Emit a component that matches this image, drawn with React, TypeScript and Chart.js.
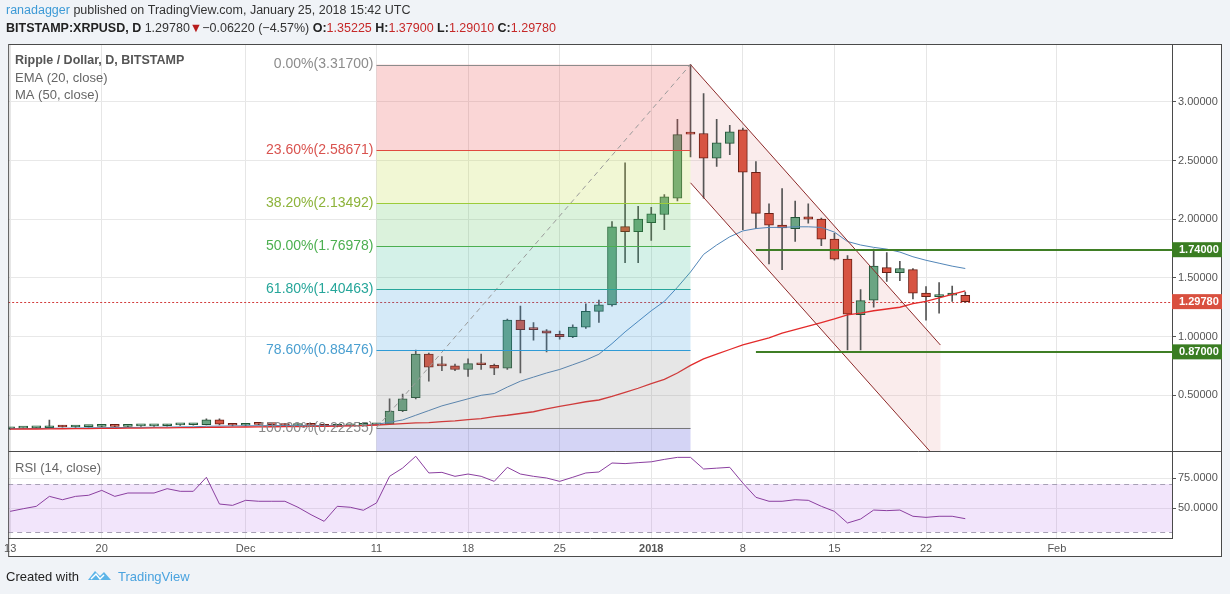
import { useEffect, useRef } from 'react';
import { Chart, registerables } from 'chart.js';

Chart.register(...registerables);

const FONT = "'Liberation Sans', Arial, sans-serif";

// daily candles, index 0 = Nov 13 2017 ... index 73 = Jan 25 2018
const opens = [
  0.215, 0.22, 0.222, 0.224, 0.238, 0.23, 0.233, 0.236, 0.242, 0.235,
  0.24, 0.24, 0.241, 0.248, 0.249, 0.25, 0.292, 0.255, 0.245, 0.255,
  0.252, 0.25, 0.243, 0.251, 0.245, 0.235, 0.24, 0.244, 0.248, 0.255,
  0.37, 0.48, 0.85, 0.755, 0.75, 0.72, 0.77, 0.755, 0.73, 1.14,
  1.065, 1.05, 1.02, 1.0, 1.08, 1.215, 1.27, 1.936, 1.894, 1.97,
  2.04, 2.18, 2.73, 2.73, 2.52, 2.645, 2.76, 2.4, 2.05, 1.95,
  1.92, 2.02, 2.0, 1.83, 1.66, 1.187, 1.31, 1.587, 1.545, 1.57,
  1.37, 1.34, 1.352, 1.35225,
];
const highs = [
  0.222, 0.226, 0.228, 0.29, 0.245, 0.236, 0.24, 0.245, 0.248, 0.242,
  0.243, 0.244, 0.25, 0.252, 0.254, 0.3, 0.3, 0.262, 0.26, 0.262,
  0.258, 0.256, 0.255, 0.255, 0.25, 0.245, 0.246, 0.25, 0.262, 0.47,
  0.51, 0.885, 0.86, 0.83, 0.766, 0.81, 0.85, 0.766, 1.15, 1.26,
  1.12, 1.06, 1.048, 1.1, 1.28, 1.31, 1.98, 2.48, 2.11, 2.1,
  2.21, 2.85, 3.317, 3.07, 2.85, 2.8, 2.775, 2.49, 2.13, 2.26,
  2.155, 2.13, 2.01, 1.88, 1.69, 1.4, 1.745, 1.715, 1.64, 1.58,
  1.425, 1.46, 1.43, 1.379,
];
const lows = [
  0.208, 0.215, 0.217, 0.22, 0.228, 0.226, 0.229, 0.231, 0.233, 0.232,
  0.236, 0.236, 0.238, 0.244, 0.245, 0.248, 0.248, 0.24, 0.24, 0.248,
  0.245, 0.24, 0.238, 0.242, 0.232, 0.23, 0.236, 0.24, 0.245, 0.25,
  0.36, 0.47, 0.62, 0.71, 0.71, 0.66, 0.72, 0.675, 0.72, 0.69,
  0.97, 0.87, 0.977, 0.99, 1.07, 1.12, 1.26, 1.63, 1.63, 1.82,
  1.91, 2.155, 2.53, 2.18, 2.45, 2.55, 1.91, 1.92, 1.62, 1.57,
  1.81, 1.965, 1.775, 1.65, 0.886, 0.886, 1.25, 1.47, 1.476, 1.32,
  1.14, 1.2, 1.3, 1.2901,
];
const closes = [
  0.22, 0.222, 0.224, 0.238, 0.23, 0.233, 0.236, 0.242, 0.235, 0.24,
  0.24, 0.241, 0.248, 0.249, 0.25, 0.292, 0.255, 0.245, 0.255, 0.252,
  0.25, 0.243, 0.251, 0.245, 0.235, 0.24, 0.244, 0.248, 0.255, 0.366,
  0.47, 0.85, 0.74, 0.75, 0.72, 0.77, 0.76, 0.73, 1.14, 1.06,
  1.06, 1.03, 1.0, 1.08, 1.215, 1.27, 1.935, 1.893, 2.0, 2.045,
  2.19, 2.72, 2.725, 2.52, 2.65, 2.745, 2.4, 2.05, 1.95, 1.925,
  2.015, 2.0, 1.83, 1.66, 1.19, 1.306, 1.6, 1.545, 1.58, 1.37,
  1.34, 1.35, 1.37, 1.2978,
];
const ema20 = [
  0.215, 0.216, 0.217, 0.219, 0.22, 0.221, 0.223, 0.224, 0.225, 0.226,
  0.227, 0.228, 0.229, 0.231, 0.232, 0.236, 0.238, 0.239, 0.24, 0.241,
  0.242, 0.242, 0.243, 0.243, 0.242, 0.242, 0.242, 0.243, 0.253, 0.27,
  0.29, 0.33, 0.37, 0.41, 0.44, 0.47, 0.5, 0.515, 0.57, 0.62,
  0.655, 0.69, 0.72, 0.76, 0.8, 0.85, 0.94, 1.04, 1.13, 1.22,
  1.3, 1.42, 1.55, 1.7, 1.78, 1.85, 1.9, 1.92, 1.93, 1.93,
  1.935, 1.935, 1.93, 1.89, 1.81, 1.78, 1.76, 1.745, 1.72, 1.68,
  1.65, 1.625, 1.6, 1.58,
];
const ma50 = [
  0.212, 0.213, 0.213, 0.214, 0.215, 0.216, 0.217, 0.218, 0.219, 0.22,
  0.221, 0.222, 0.223, 0.224, 0.225, 0.227, 0.228, 0.229, 0.23, 0.231,
  0.232, 0.233, 0.234, 0.235, 0.236, 0.237, 0.239, 0.242, 0.247, 0.252,
  0.258, 0.265, 0.268, 0.275, 0.282, 0.292, 0.302, 0.318, 0.33, 0.345,
  0.36, 0.385, 0.405, 0.425, 0.445, 0.46, 0.49, 0.525, 0.56, 0.6,
  0.635, 0.69, 0.755, 0.81, 0.85, 0.89, 0.93, 0.96, 0.99, 1.03,
  1.06, 1.09, 1.12, 1.15, 1.185, 1.2, 1.22, 1.235, 1.25, 1.28,
  1.3, 1.33, 1.36, 1.39,
];
const rsi14 = [
  47.2, 49.4, 51.4, 59.7, 56.9, 59.7, 60.6, 64.7, 59.7, 62.5,
  62.5, 62.5, 66.1, 63.9, 63.9, 75.6, 53.3, 52.2, 56.4, 55.6,
  55.6, 55.6, 50.6, 44.4, 38.9, 51.4, 50.6, 48.1, 54.2, 76.4,
  83.3, 93.1, 79.2, 79.7, 76.4, 78.3, 76.4, 72.2, 83.9, 78.3,
  76.4, 75.0, 72.2, 75.6, 79.2, 80.0, 87.5, 87.0, 87.8, 88.5,
  90.5, 92.2, 92.2, 82.5, 83.2, 83.9, 70.8, 58.9, 55.6, 55.6,
  56.9, 56.4, 51.4, 47.2, 37.5, 40.8, 48.3, 47.8, 48.3, 43.1,
  42.2, 43.1, 43.1, 41.1,
];

const xTickDays = [0, 7, 18, 28, 35, 42, 49, 56, 63, 70, 80];
const xTickLabels = ['13', '20', 'Dec', '11', '18', '25', '2018', '8', '15', '22', 'Feb'];
const priceTicks = [0.5, 1, 1.5, 2, 2.5, 3];
const rsiTicks = [50, 75];

const fibNames = ['0.00%', '23.60%', '38.20%', '50.00%', '61.80%', '78.60%', '100.00%'];
const fibPrices = [3.317, 2.58671, 2.13492, 1.76978, 1.40463, 0.88476, 0.22255];
const fibStartDay = 28;
const fibEndDay = 52;
const channelUpper = [[52, 3.317], [71.1, 0.928]];
const channelLower = [[52, 2.31], [71.1, -0.077]];
const supportLevels = [1.74, 0.87];
const supportStartDay = 57;
const lastPrice = 1.2978;

const fibLineColors = ['#8c8c8c', '#e04a3f', '#9ccc3a', '#4caf50', '#26a69a', '#2f9bd6', '#777777'];
const fibTextColors = ['#8c8c8c', '#d9534f', '#8db33a', '#4caf50', '#26a69a', '#4a9fd0', '#888888'];
const fibZoneColors = [
  'rgba(232,70,70,0.22)',
  'rgba(190,220,60,0.22)',
  'rgba(76,190,80,0.2)',
  'rgba(38,185,140,0.2)',
  'rgba(45,150,220,0.2)',
  'rgba(130,130,130,0.2)',
  'rgba(90,90,215,0.26)',
];

type Run = { text: string; color: string; bold?: boolean };

function drawRuns(ctx: CanvasRenderingContext2D, x: number, y: number, runs: Run[], size = 13) {
  for (const r of runs) {
    ctx.font = `${r.bold ? 'bold ' : ''}${size}px ${FONT}`;
    ctx.fillStyle = r.color;
    ctx.fillText(r.text, x, y);
    x += ctx.measureText(r.text).width;
  }
}

const overlay = {
  id: 'overlay',
  beforeDraw(chart: any) {
    const { ctx, chartArea, scales } = chart;
    ctx.save();
    ctx.fillStyle = '#f0f3f7';
    ctx.fillRect(0, 0, chart.width, chart.height);
    ctx.fillStyle = '#ffffff';
    ctx.fillRect(chartArea.left, chartArea.top, scales.y.right - chartArea.left, scales.x.bottom - chartArea.top);

    ctx.textBaseline = 'middle';
    drawRuns(ctx, 6, 11, [
      { text: 'ranadagger', color: '#3d9ad6' },
      { text: ' published on TradingView.com, January 25, 2018 15:42 UTC', color: '#333' },
    ], 12.5);
    const red = '#c62828';
    drawRuns(ctx, 6, 29, [
      { text: 'BITSTAMP:XRPUSD, D', color: '#222', bold: true },
      { text: ' 1.29780', color: '#333' },
      { text: '▼', color: '#b71c1c' },
      { text: '\u22120.06220 (\u22124.57%) ', color: '#333' },
      { text: 'O:', color: '#222', bold: true },
      { text: '1.35225', color: red },
      { text: ' H:', color: '#222', bold: true },
      { text: '1.37900', color: red },
      { text: ' L:', color: '#222', bold: true },
      { text: '1.29010', color: red },
      { text: ' C:', color: '#222', bold: true },
      { text: '1.29780', color: red },
    ], 12.5);

    // footer
    drawRuns(ctx, 6, 577, [{ text: 'Created with', color: '#222' }], 13);
    ctx.fillStyle = '#5bb4e8';
    ctx.beginPath();
    ctx.moveTo(88, 580);
    ctx.lineTo(95, 571);
    ctx.lineTo(100, 576);
    ctx.lineTo(104, 572);
    ctx.lineTo(111, 580);
    ctx.closePath();
    ctx.fill();
    ctx.strokeStyle = '#ffffff';
    ctx.lineWidth = 1.5;
    ctx.beginPath();
    ctx.moveTo(91, 579);
    ctx.lineTo(96, 574);
    ctx.lineTo(100, 579);
    ctx.lineTo(104, 575);
    ctx.stroke();
    drawRuns(ctx, 118, 577, [{ text: 'TradingView', color: '#4aa3df' }], 13);
    ctx.restore();
  },
  beforeDatasetsDraw(chart: any) {
    const { ctx, chartArea, scales } = chart;
    const x = scales.x, y = scales.y, r = scales.yRsi;
    ctx.save();
    // RSI band
    const y70 = r.getPixelForValue(70), y30 = r.getPixelForValue(30);
    ctx.fillStyle = 'rgba(185,110,235,0.18)';
    ctx.fillRect(chartArea.left, y70, chartArea.right - chartArea.left, y30 - y70);
    ctx.strokeStyle = '#a7a0b5';
    ctx.lineWidth = 1;
    ctx.setLineDash([5, 4]);
    for (const v of [y70, y30]) {
      ctx.beginPath();
      ctx.moveTo(chartArea.left, Math.round(v) + 0.5);
      ctx.lineTo(chartArea.right, Math.round(v) + 0.5);
      ctx.stroke();
    }
    ctx.setLineDash([]);

    // main panel clip
    ctx.beginPath();
    ctx.rect(chartArea.left, y.top, chartArea.right - chartArea.left, y.bottom - y.top);
    ctx.clip();
    // channel fill
    ctx.fillStyle = 'rgba(225,150,150,0.18)';
    ctx.beginPath();
    ctx.moveTo(x.getPixelForValue(channelUpper[0][0]), y.getPixelForValue(channelUpper[0][1]));
    ctx.lineTo(x.getPixelForValue(channelUpper[1][0]), y.getPixelForValue(channelUpper[1][1]));
    ctx.lineTo(x.getPixelForValue(channelLower[1][0]), y.getPixelForValue(channelLower[1][1]));
    ctx.lineTo(x.getPixelForValue(channelLower[0][0]), y.getPixelForValue(channelLower[0][1]));
    ctx.closePath();
    ctx.fill();
    // last price dotted line
    const py = Math.round(y.getPixelForValue(lastPrice)) + 0.5;
    ctx.strokeStyle = '#d23c3c';
    ctx.setLineDash([2, 2]);
    ctx.beginPath();
    ctx.moveTo(chartArea.left, py);
    ctx.lineTo(chartArea.right, py);
    ctx.stroke();
    ctx.restore();
  },
  afterDatasetsDraw(chart: any) {
    const { ctx, chartArea, scales } = chart;
    const x = scales.x, y = scales.y;
    ctx.save();
    ctx.beginPath();
    ctx.rect(chartArea.left, y.top, chartArea.right - chartArea.left, y.bottom - y.top);
    ctx.clip();
    const x0 = x.getPixelForValue(fibStartDay), x1 = x.getPixelForValue(fibEndDay);
    // zones
    for (let i = 0; i < fibPrices.length; i++) {
      const top = y.getPixelForValue(fibPrices[i]);
      const bottom = i + 1 < fibPrices.length ? y.getPixelForValue(fibPrices[i + 1]) : y.bottom;
      ctx.fillStyle = fibZoneColors[i];
      ctx.fillRect(x0, top, x1 - x0, bottom - top);
    }
    // trend line
    ctx.strokeStyle = '#9a9a9a';
    ctx.lineWidth = 1;
    ctx.setLineDash([5, 4]);
    ctx.beginPath();
    ctx.moveTo(x0, y.getPixelForValue(fibPrices[fibPrices.length - 1]));
    ctx.lineTo(x1, y.getPixelForValue(fibPrices[0]));
    ctx.stroke();
    ctx.setLineDash([]);
    // level lines
    for (let i = 0; i < fibPrices.length; i++) {
      const ly = Math.round(y.getPixelForValue(fibPrices[i])) + 0.5;
      ctx.strokeStyle = fibLineColors[i];
      ctx.beginPath();
      ctx.moveTo(x0, ly);
      ctx.lineTo(x1, ly);
      ctx.stroke();
    }
    // channel lines
    ctx.strokeStyle = '#8e2a2a';
    for (const line of [channelUpper, channelLower]) {
      ctx.beginPath();
      ctx.moveTo(x.getPixelForValue(line[0][0]), y.getPixelForValue(line[0][1]));
      ctx.lineTo(x.getPixelForValue(line[1][0]), y.getPixelForValue(line[1][1]));
      ctx.stroke();
    }
    ctx.restore();

    // support / resistance
    ctx.save();
    ctx.strokeStyle = '#3f7e25';
    ctx.lineWidth = 2;
    for (const v of supportLevels) {
      const ly = Math.round(y.getPixelForValue(v));
      ctx.beginPath();
      ctx.moveTo(x.getPixelForValue(supportStartDay), ly);
      ctx.lineTo(chartArea.right, ly);
      ctx.stroke();
    }
    ctx.restore();
  },
  afterDraw(chart: any) {
    const { ctx, chartArea, scales } = chart;
    const x = scales.x, y = scales.y, r = scales.yRsi;
    ctx.save();
    // frame
    ctx.strokeStyle = '#4a4a4a';
    ctx.lineWidth = 1;
    const L = chartArea.left + 0.5, R = Math.round(y.right) - 0.5;
    const T = chartArea.top + 0.5, B = Math.round(x.bottom) - 0.5;
    ctx.strokeRect(L, T, R - L, B - T);
    ctx.beginPath();
    ctx.moveTo(L, Math.round(y.bottom) + 0.5);
    ctx.lineTo(R, Math.round(y.bottom) + 0.5);
    ctx.stroke();

    // axis value boxes
    const boxes = [
      { v: 1.74, bg: '#3a7d22', t: '1.74000' },
      { v: lastPrice, bg: '#d9503f', t: '1.29780' },
      { v: 0.87, bg: '#3a7d22', t: '0.87000' },
    ];
    ctx.font = `bold 11px ${FONT}`;
    ctx.textBaseline = 'middle';
    ctx.textAlign = 'left';
    for (const b of boxes) {
      const by = y.getPixelForValue(b.v);
      ctx.fillStyle = b.bg;
      ctx.fillRect(y.left, by - 7.5, y.right - y.left, 15);
      ctx.fillStyle = '#ffffff';
      ctx.fillText(b.t, y.left + 7, by + 0.5);
    }

    // fib labels
    ctx.font = `14px ${FONT}`;
    ctx.textAlign = 'right';
    const fx = x.getPixelForValue(fibStartDay) - 3;
    for (let i = 0; i < fibPrices.length; i++) {
      ctx.fillStyle = fibTextColors[i];
      ctx.fillText(`${fibNames[i]}(${fibPrices[i].toFixed(5)})`, fx, y.getPixelForValue(fibPrices[i]));
    }

    // legends
    ctx.textAlign = 'left';
    ctx.font = `bold 12.5px ${FONT}`;
    ctx.fillStyle = '#555';
    ctx.fillText('Ripple / Dollar, D, BITSTAMP', 15, 61);
    ctx.font = `13px ${FONT}`;
    ctx.fillStyle = '#666';
    ctx.fillText('EMA (20, close)', 15, 78);
    ctx.fillText('MA (50, close)', 15, 95);
    ctx.fillText('RSI (14, close)', 15, r.top + 17);
    ctx.restore();
  },
};

const green = '#6ba583';
const greenEdge = '#225437';
const redFill = '#d75442';
const redEdge = '#6b1f15';

export default function App() {
  const canvasRef = useRef<HTMLCanvasElement | null>(null);

  useEffect(() => {
    const ctx = canvasRef.current!.getContext('2d')!;
    const isUp = closes.map((c, i) => c >= opens[i]);
    const chart = new Chart(ctx, {
      type: 'bar',
      data: {
        datasets: [
          {
            type: 'bar',
            label: 'wicks',
            data: highs.map((h, i) => ({ x: i, y: [lows[i], h] })) as any,
            backgroundColor: '#555555',
            barThickness: 1,
            grouped: false,
            order: 4,
          },
          {
            type: 'bar',
            label: 'bodies',
            data: opens.map((o, i) => ({ x: i, y: [o, closes[i]] })) as any,
            backgroundColor: isUp.map((u) => (u ? green : redFill)),
            borderColor: isUp.map((u) => (u ? greenEdge : redEdge)),
            borderWidth: 1,
            borderSkipped: false,
            barThickness: 9,
            minBarLength: 2,
            grouped: false,
            order: 3,
          },
          {
            type: 'line',
            label: 'EMA (20, close)',
            data: ema20.map((v, i) => ({ x: i, y: v })),
            borderColor: '#5286b8',
            borderWidth: 1,
            pointRadius: 0,
            tension: 0,
            order: 2,
          },
          {
            type: 'line',
            label: 'MA (50, close)',
            data: ma50.map((v, i) => ({ x: i, y: v })),
            borderColor: '#e32b2b',
            borderWidth: 1.3,
            pointRadius: 0,
            tension: 0,
            order: 1,
          },
          {
            type: 'line',
            label: 'RSI (14, close)',
            data: rsi14.map((v, i) => ({ x: i, y: v })),
            yAxisID: 'yRsi',
            borderColor: '#8b3fa0',
            borderWidth: 1,
            pointRadius: 0,
            tension: 0,
            order: 0,
          },
        ],
      },
      options: {
        responsive: false,
        animation: false,
        layout: { padding: { left: 7, top: 44, right: 8, bottom: 37 } },
        plugins: { legend: { display: false }, tooltip: { enabled: false } },
        scales: {
          x: {
            type: 'linear',
            min: -0.15,
            max: 88.8,
            offset: false,
            grid: { offset: false, color: '#e6e6e6', drawTicks: false },
            border: { display: true, color: '#4a4a4a' },
            afterBuildTicks: (s: any) => {
              s.ticks = xTickDays.map((v) => ({ value: v }));
            },
            afterFit: (s: any) => {
              s.height = 19;
            },
            ticks: {
              autoSkip: false,
              maxRotation: 0,
              padding: 4,
              color: '#555',
              font: (c: any) => ({
                family: FONT,
                size: 11,
                weight: c.tick && c.tick.value === 49 ? 'bold' : 'normal',
              }),
              callback: (v: any) => xTickLabels[xTickDays.indexOf(v)] ?? '',
            },
          },
          y: {
            type: 'linear',
            position: 'right',
            stack: 'panels',
            stackWeight: 407,
            min: 0.0256,
            max: 3.492,
            grid: { color: '#e8e8e8', tickColor: '#555', tickLength: 4 },
            border: { display: true, color: '#4a4a4a' },
            afterBuildTicks: (s: any) => {
              s.ticks = priceTicks.map((v) => ({ value: v }));
            },
            afterFit: (s: any) => {
              s.width = 50;
            },
            ticks: {
              padding: 2,
              color: '#555',
              font: { family: FONT, size: 11 },
              callback: (v: any) => Number(v).toFixed(5),
            },
          },
          yRsi: {
            type: 'linear',
            position: 'right',
            stack: 'panels',
            stackWeight: 87,
            min: 25,
            max: 97.5,
            grid: { color: '#e8e8e8', tickColor: '#555', tickLength: 4 },
            border: { display: true, color: '#4a4a4a' },
            afterBuildTicks: (s: any) => {
              s.ticks = rsiTicks.map((v) => ({ value: v }));
            },
            afterFit: (s: any) => {
              s.width = 50;
            },
            ticks: {
              padding: 2,
              color: '#555',
              font: { family: FONT, size: 11 },
              callback: (v: any) => Number(v).toFixed(4),
            },
          },
        },
      },
      plugins: [overlay],
    });
    return () => {
      chart.destroy();
    };
  }, []);

  return (
    <div style={{ position: 'absolute', left: 0, top: 0, width: 1230, height: 594 }}>
      <canvas ref={canvasRef} width={1230} height={594} style={{ width: 1230, height: 594 }} />
    </div>
  );
}
